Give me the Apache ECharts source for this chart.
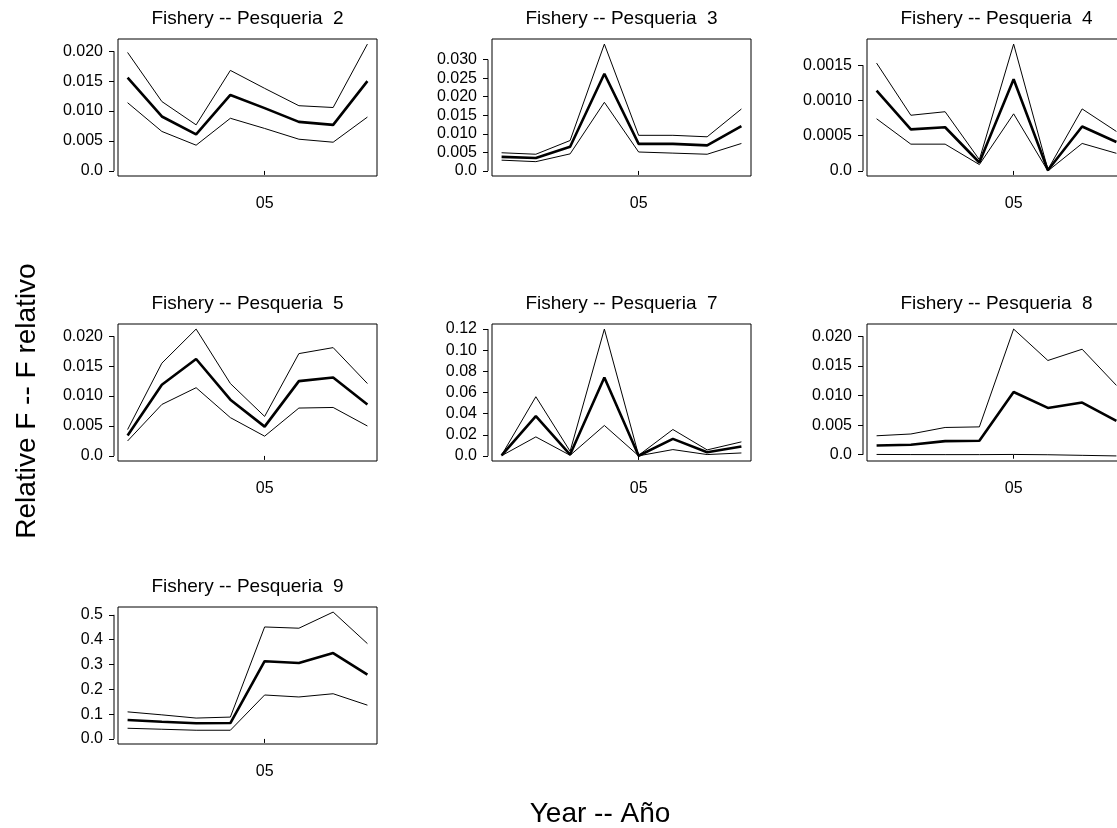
<!DOCTYPE html>
<html>
<head>
<meta charset="utf-8">
<script src="https://cdn.jsdelivr.net/npm/echarts@6/dist/echarts.min.js"></script>
<style>
  html, body { margin: 0; padding: 0; background: #fff; }
  #chart { width: 1117px; height: 828px; }
</style>
</head>
<body>
<div id="chart"></div>
<script>
// years on the x axis, only 2005 is labelled ("05")
const years = [2001, 2002, 2003, 2004, 2005, 2006, 2007, 2008];
const xTicks = [2005];
const xTickLabels = ['05'];

// fishery 2
const p2Mid = [0.0156, 0.0091, 0.0061, 0.0127, 0.0105, 0.0082, 0.0077, 0.0150];
const p2Hi  = [0.0198, 0.0116, 0.0077, 0.0168, 0.0138, 0.0109, 0.0106, 0.0212];
const p2Lo  = [0.0114, 0.0066, 0.0043, 0.0088, 0.0071, 0.0053, 0.0048, 0.0090];
// fishery 3
const p3Mid = [0.0038, 0.0035, 0.0065, 0.0262, 0.0073, 0.0073, 0.0069, 0.0121];
const p3Hi  = [0.0049, 0.0045, 0.0082, 0.0342, 0.0096, 0.0096, 0.0092, 0.0167];
const p3Lo  = [0.0029, 0.0025, 0.0046, 0.0185, 0.0051, 0.0048, 0.0045, 0.0074];
// fishery 4
const p4Mid = [0.00114, 0.00059, 0.00062, 0.00012, 0.00130, 0.00001, 0.00063, 0.00041];
const p4Hi  = [0.00153, 0.00079, 0.00084, 0.00016, 0.00180, 0.00002, 0.00088, 0.00056];
const p4Lo  = [0.00074, 0.00038, 0.00038, 0.00009, 0.00081, 0.00000, 0.00039, 0.00025];
// fishery 5
const p5Mid = [0.0034, 0.0119, 0.0162, 0.0094, 0.0049, 0.0125, 0.0131, 0.0086];
const p5Hi  = [0.0044, 0.0155, 0.0212, 0.0121, 0.0066, 0.0171, 0.0181, 0.0121];
const p5Lo  = [0.0025, 0.0086, 0.0114, 0.0064, 0.0033, 0.0080, 0.0081, 0.0050];
// fishery 7
const p7Mid = [0.0005, 0.0377, 0.0013, 0.0741, 0.0002, 0.0161, 0.0035, 0.0089];
const p7Hi  = [0.0007, 0.0560, 0.0044, 0.1200, 0.0006, 0.0250, 0.0057, 0.0133];
const p7Lo  = [0.0002, 0.0180, 0.0006, 0.0288, 0.0001, 0.0060, 0.0013, 0.0028];
// fishery 8
const p8Mid = [0.00157, 0.00168, 0.0023, 0.00235, 0.01059, 0.0079, 0.0088, 0.0057];
const p8Hi  = [0.0032, 0.0035, 0.0046, 0.0047, 0.0212, 0.0159, 0.0178, 0.0117];
const p8Lo  = [0.00005, 0.00003, 0.00002, 0.00002, 0.00005, 0.0, -0.0001, -0.0002];
// fishery 9
const p9Mid = [0.076, 0.069, 0.063, 0.064, 0.313, 0.306, 0.346, 0.259];
const p9Hi  = [0.109, 0.097, 0.084, 0.088, 0.451, 0.446, 0.511, 0.384];
const p9Lo  = [0.043, 0.039, 0.035, 0.035, 0.177, 0.169, 0.182, 0.136];

// y tick values and their labels
const ticks020 = [0, 0.005, 0.010, 0.015, 0.020];
const labels020 = ['0.0', '0.005', '0.010', '0.015', '0.020'];
const ticks030 = [0, 0.005, 0.010, 0.015, 0.020, 0.025, 0.030];
const labels030 = ['0.0', '0.005', '0.010', '0.015', '0.020', '0.025', '0.030'];
const ticks0015 = [0, 0.0005, 0.0010, 0.0015];
const labels0015 = ['0.0', '0.0005', '0.0010', '0.0015'];
const ticks12 = [0, 0.02, 0.04, 0.06, 0.08, 0.10, 0.12];
const labels12 = ['0.0', '0.02', '0.04', '0.06', '0.08', '0.10', '0.12'];
const ticks5 = [0, 0.1, 0.2, 0.3, 0.4, 0.5];
const labels5 = ['0.0', '0.1', '0.2', '0.3', '0.4', '0.5'];

const titles = ['Fishery -- Pesqueria  2', 'Fishery -- Pesqueria  3', 'Fishery -- Pesqueria  4',
                'Fishery -- Pesqueria  5', 'Fishery -- Pesqueria  7', 'Fishery -- Pesqueria  8',
                'Fishery -- Pesqueria  9'];

const panels = [
    { mid: p2Mid, hi: p2Hi, lo: p2Lo, ticks: ticks020, labels: labels020 },
    { mid: p3Mid, hi: p3Hi, lo: p3Lo, ticks: ticks030, labels: labels030 },
    { mid: p4Mid, hi: p4Hi, lo: p4Lo, ticks: ticks0015, labels: labels0015 },
    { mid: p5Mid, hi: p5Hi, lo: p5Lo, ticks: ticks020, labels: labels020 },
    { mid: p7Mid, hi: p7Hi, lo: p7Lo, ticks: ticks12, labels: labels12 },
    { mid: p8Mid, hi: p8Hi, lo: p8Lo, ticks: ticks020, labels: labels020 },
    { mid: p9Mid, hi: p9Hi, lo: p9Lo, ticks: ticks5, labels: labels5 }
];

const FONT = 'Liberation Sans, Arial, sans-serif';
const colLeft = [118, 492, 867];
const rowTop = [39, 324, 607];
const boxW = 259, boxH = 137;

const chart = echarts.init(document.getElementById('chart'), null, { renderer: 'canvas' });

const grid = [], xAxis = [], yAxis = [], series = [], graphic = [];
const xPad = (years[years.length - 1] - years[0]) * 0.04;

panels.forEach((p, i) => {
    const col = i % 3, row = Math.floor(i / 3);
    const all = p.mid.concat(p.hi, p.lo, [0]);
    const lo = Math.min(...all), hi = Math.max(...all);
    const pad = (hi - lo) * 0.04;

    grid.push({
        left: colLeft[col], top: rowTop[row], width: boxW, height: boxH,
        outerBoundsMode: 'none', containLabel: false,
        show: true, borderColor: '#000', borderWidth: 1, backgroundColor: 'transparent'
    });
    xAxis.push({
        type: 'value', gridIndex: i,
        min: years[0] - xPad, max: years[years.length - 1] + xPad,
        axisLine: { show: false },
        splitLine: { show: false },
        axisTick: { show: true, customValues: xTicks, length: 4, lineStyle: { color: '#000', width: 1 } },
        axisLabel: {
            customValues: xTicks, margin: 20, color: '#000', fontSize: 16, fontFamily: FONT,
            formatter: v => xTickLabels[xTicks.indexOf(v)]
        }
    });
    yAxis.push({
        type: 'value', gridIndex: i, min: lo - pad, max: hi + pad,
        offset: 4,
        axisLine: { show: false },
        splitLine: { show: false },
        axisTick: { show: true, customValues: p.ticks, length: 5, lineStyle: { color: '#000', width: 1 } },
        axisLabel: {
            customValues: p.ticks, margin: 11, color: '#000', fontSize: 16, fontFamily: FONT,
            formatter: v => p.labels[p.ticks.indexOf(v)]
        }
    });
    [[p.hi, 1], [p.lo, 1], [p.mid, 2.6]].forEach(([vals, w]) => {
        series.push({
            type: 'line', xAxisIndex: i, yAxisIndex: i,
            data: years.map((y, k) => [y, vals[k]]),
            showSymbol: false, silent: true,
            lineStyle: { color: '#000', width: w },
            animation: false
        });
    });
    graphic.push({
        type: 'text',
        x: colLeft[col] + boxW / 2, y: rowTop[row] - 20,
        style: { text: titles[i], fill: '#000', font: '19px ' + FONT, align: 'center', verticalAlign: 'middle' }
    });
});

graphic.push({
    type: 'text', x: 600, y: 814,
    style: { text: 'Year -- Año', fill: '#000', font: '28px ' + FONT, align: 'center', verticalAlign: 'middle' }
});
graphic.push({
    type: 'text', x: 27, y: 401, rotation: Math.PI / 2,
    style: { text: 'Relative F -- F relativo', fill: '#000', font: '28px ' + FONT, align: 'center', verticalAlign: 'middle' }
});

chart.setOption({
    backgroundColor: '#fff',
    animation: false,
    grid: grid,
    xAxis: xAxis,
    yAxis: yAxis,
    series: series,
    graphic: graphic
});

// R style y axis line: runs from first to last tick, just left of the box
const axisLines = panels.map((p, i) => {
    const col = i % 3;
    const y0 = chart.convertToPixel({ yAxisIndex: i }, p.ticks[0]);
    const y1 = chart.convertToPixel({ yAxisIndex: i }, p.ticks[p.ticks.length - 1]);
    const x = colLeft[col] - 4;
    return {
        type: 'line',
        shape: { x1: x, y1: y0, x2: x, y2: y1 },
        style: { stroke: '#000', lineWidth: 1 }
    };
});
chart.setOption({ graphic: graphic.concat(axisLines) });
</script>
</body>
</html>
